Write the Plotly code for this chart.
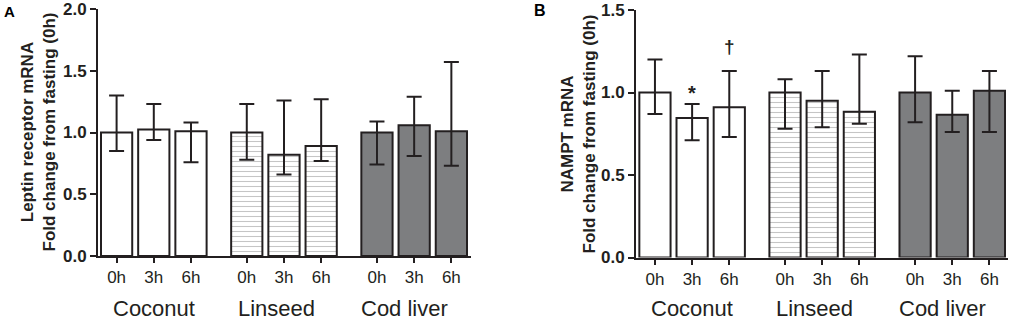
import plotly.graph_objects as go

# ---- data ----
time_labels = ["0h", "3h", "6h"]
groups = ["Coconut", "Linseed", "Cod liver"]

# Panel A: Leptin receptor mRNA (mean, upper error, lower error)
a_coconut = [1.00, 1.025, 1.01]
a_coconut_hi = [1.30, 1.23, 1.08]
a_coconut_lo = [0.85, 0.94, 0.76]
a_linseed = [1.00, 0.82, 0.89]
a_linseed_hi = [1.23, 1.26, 1.27]
a_linseed_lo = [0.78, 0.66, 0.77]
a_cod = [1.00, 1.058, 1.01]
a_cod_hi = [1.09, 1.29, 1.57]
a_cod_lo = [0.74, 0.81, 0.73]

# Panel B: NAMPT mRNA
b_coconut = [1.00, 0.845, 0.91]
b_coconut_hi = [1.20, 0.93, 1.13]
b_coconut_lo = [0.87, 0.71, 0.73]
b_linseed = [1.00, 0.95, 0.884]
b_linseed_hi = [1.08, 1.13, 1.23]
b_linseed_lo = [0.78, 0.79, 0.81]
b_cod = [1.00, 0.865, 1.01]
b_cod_hi = [1.22, 1.01, 1.13]
b_cod_lo = [0.82, 0.76, 0.76]

# bar positions: three groups of three, with gaps between groups
pos_coconut = [0, 1, 2]
pos_linseed = [3.5, 4.5, 5.5]
pos_cod = [7, 8, 9]

INK = "#231f20"
FONT = "Liberation Sans, Arial, sans-serif"
W, H = 1011, 321

fig = go.Figure()

def add_bars(xaxis, yaxis, pos, vals, hi, lo, style):
    marker = dict(line=dict(color=INK, width=2))
    if style == "white":
        marker["color"] = "white"
    elif style == "hatch":
        marker["color"] = "white"
        marker["pattern"] = dict(shape="-", bgcolor="white", fgcolor="#8c8c8c",
                                 size=5, solidity=0.22)
    else:
        marker["color"] = "#7d7e80"
    fig.add_trace(go.Bar(
        x=pos, y=vals, width=0.84, marker=marker,
        xaxis=xaxis, yaxis=yaxis, showlegend=False, hoverinfo="skip",
        error_y=dict(type="data", symmetric=False,
                     array=[h - v for h, v in zip(hi, vals)],
                     arrayminus=[v - l for l, v in zip(lo, vals)],
                     color=INK, thickness=2, width=7.5),
    ))

add_bars("x", "y", pos_coconut, a_coconut, a_coconut_hi, a_coconut_lo, "white")
add_bars("x", "y", pos_linseed, a_linseed, a_linseed_hi, a_linseed_lo, "hatch")
add_bars("x", "y", pos_cod, a_cod, a_cod_hi, a_cod_lo, "gray")
add_bars("x2", "y2", pos_coconut, b_coconut, b_coconut_hi, b_coconut_lo, "white")
add_bars("x2", "y2", pos_linseed, b_linseed, b_linseed_hi, b_linseed_lo, "hatch")
add_bars("x2", "y2", pos_cod, b_cod, b_cod_hi, b_cod_lo, "gray")

all_pos = pos_coconut + pos_linseed + pos_cod
all_text = time_labels * 3

xcommon = dict(tickmode="array", tickvals=all_pos, ticktext=all_text,
               showline=True, linecolor=INK, linewidth=2,
               ticks="outside", ticklen=5, tickwidth=2, tickcolor=INK,
               tickfont=dict(family=FONT, size=17, color=INK),
               showgrid=False, zeroline=False, fixedrange=True, automargin=False,
               ticklabeloverflow="allow")
ycommon = dict(showline=True, linecolor=INK, linewidth=2,
               ticks="outside", ticklen=6, tickwidth=2, tickcolor=INK,
               tickfont=dict(family=FONT, size=17, color=INK, weight="bold"),
               tickformat=".1f", showgrid=False, zeroline=False, fixedrange=True,
               automargin=False, ticklabeloverflow="allow")

fig.update_layout(
    width=W, height=H,
    margin=dict(l=0, r=0, t=0, b=0, pad=0, autoexpand=False),
    paper_bgcolor="white", plot_bgcolor="white",
    bargap=0,
    xaxis=dict(domain=[98 / W, 470.7 / W], range=[-0.5, 9.52], anchor="y", **xcommon),
    yaxis=dict(domain=[(H - 256) / H, (H - 9) / H], range=[0, 2.0],
               tickvals=[0, 0.5, 1.0, 1.5, 2.0], anchor="x", **ycommon),
    xaxis2=dict(domain=[636 / W, 1008 / W], range=[-0.51, 9.5], anchor="y2", **xcommon),
    yaxis2=dict(domain=[(H - 257.5) / H, (H - 10) / H], range=[0, 1.5],
                tickvals=[0, 0.5, 1.0, 1.5], anchor="x2", **ycommon),
)

ann = []
# group labels
for ax in ["x", "x2"]:
    for g, xc in zip(groups, [1, 4.3, 7.75]):
        ann.append(dict(text=g, x=xc, xref=ax, y=(H - 308.5) / H, yref="paper",
                        xanchor="center", yanchor="middle", showarrow=False,
                        font=dict(family=FONT, size=22, color=INK)))
# y-axis titles
ann.append(dict(text="Leptin receptor mRNA<br>Fold change from fasting (0h)",
                x=37.5 / W, y=(H - 132) / H, xref="paper", yref="paper",
                textangle=-90, xanchor="center", yanchor="middle", showarrow=False,
                font=dict(family=FONT, size=17, color=INK, weight="bold")))
ann.append(dict(text="NAMPT mRNA<br>Fold change from fasting (0h)",
                x=577.5 / W, y=(H - 134) / H, xref="paper", yref="paper",
                textangle=-90, xanchor="center", yanchor="middle", showarrow=False,
                font=dict(family=FONT, size=17, color=INK, weight="bold")))
# panel letters
ann.append(dict(text="A", x=9 / W, y=(H - 11) / H, xref="paper", yref="paper",
                xanchor="center", yanchor="middle", showarrow=False,
                font=dict(family=FONT, size=15, color="black", weight="bold")))
ann.append(dict(text="B", x=540 / W, y=(H - 10) / H, xref="paper", yref="paper",
                xanchor="center", yanchor="middle", showarrow=False,
                font=dict(family=FONT, size=16, color="black", weight="bold")))
# significance markers
ann.append(dict(text="*", x=1, y=1.0, xref="x2", yref="y2",
                xanchor="center", yanchor="middle", showarrow=False,
                font=dict(family=FONT, size=20, color=INK, weight="bold")))
ann.append(dict(text="†", x=2, y=1.28, xref="x2", yref="y2",
                xanchor="center", yanchor="middle", showarrow=False,
                font=dict(family=FONT, size=19, color=INK, weight="bold")))
fig.update_layout(annotations=ann)

fig.write_html(
    "out.html",
    config={"displayModeBar": False, "staticPlot": True},
    post_script="document.body.style.margin='0';document.body.style.overflow='hidden';"
                "document.documentElement.style.overflow='hidden';",
)
